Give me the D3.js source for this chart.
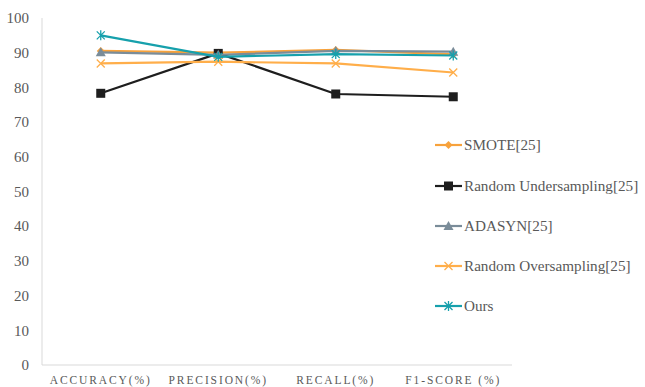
<!DOCTYPE html>
<html><head><meta charset="utf-8">
<script src="https://cdn.jsdelivr.net/npm/d3@7"></script>
</head><body><svg id="c" width="645" height="387" style="position:absolute;left:0;top:0;background:#fff"></svg>
<script>
const categories = ["ACCURACY(%)", "PRECISION(%)", "RECALL(%)", "F1-SCORE (%)"];
const seriesNames = ["SMOTE[25]", "Random Undersampling[25]", "ADASYN[25]", "Random Oversampling[25]", "Ours"];
const smote = [90.5, 90.0, 90.8, 89.5];
const randomUnder = [78.3, 89.8, 78.1, 77.3];
const adasyn = [90.1, 89.4, 90.5, 90.3];
const randomOver = [86.9, 87.4, 86.9, 84.3];
const ours = [95.0, 88.8, 89.6, 89.2];
const yTicks = [0, 10, 20, 30, 40, 50, 60, 70, 80, 90, 100];

const colors = ["#F7A23C", "#1E1E1E", "#7A8C99", "#FFAE4A", "#16A0AC"];
const markers = ["diamond", "square", "triangle", "x", "asterisk"];
const allValues = [smote, randomUnder, adasyn, randomOver, ours];

const FONT = "Liberation Serif";
const svg = d3.select("#c");
const m = {l: 42, r: 512, t: 18, b: 365};
const x = d3.scaleBand().domain(categories).range([m.l, m.r]);
const y = d3.scaleLinear().domain([0, 100]).range([m.b, m.t]);

svg.append("line").attr("x1", m.l).attr("x2", m.l).attr("y1", m.t).attr("y2", m.b).attr("stroke", "#D9D9D9");
svg.append("line").attr("x1", m.l).attr("x2", m.r).attr("y1", m.b).attr("y2", m.b).attr("stroke", "#D9D9D9");

svg.append("g").selectAll("text").data(yTicks).join("text")
  .attr("x", 29).attr("y", d => y(d)).attr("dy", "0.35em")
  .attr("text-anchor", "end").attr("font-family", FONT).attr("font-size", 15)
  .attr("fill", "#595959").text(d => d);

svg.append("g").selectAll("text").data(categories).join("text")
  .attr("x", d => x(d) + x.bandwidth() / 2).attr("y", 384)
  .attr("text-anchor", "middle").attr("font-family", FONT).attr("font-size", 11.5)
  .attr("letter-spacing", "1.9px").attr("fill", "#595959").text(d => d);

function drawMarker(g, type, color) {
  if (type === "diamond") {
    g.append("path").attr("d", "M0,-4L4,0L0,4L-4,0Z").attr("fill", color);
  } else if (type === "square") {
    g.append("rect").attr("x", -4.5).attr("y", -4.5).attr("width", 9).attr("height", 9).attr("fill", color);
  } else if (type === "triangle") {
    g.append("path").attr("d", "M0,-5L5,4L-5,4Z").attr("fill", color);
  } else if (type === "x") {
    g.append("path").attr("d", "M-4,-4L4,4M-4,4L4,-4").attr("stroke", color).attr("stroke-width", 1.3);
  } else if (type === "asterisk") {
    g.append("path").attr("d", "M-4,-4L4,4M-4,4L4,-4M0,-5L0,5").attr("stroke", color).attr("stroke-width", 1.3);
  }
}

const line = d3.line().x((d, i) => x(categories[i]) + x.bandwidth() / 2).y(d => y(d));
allValues.forEach((vals, si) => {
  svg.append("path").attr("d", line(vals)).attr("fill", "none")
    .attr("stroke", colors[si]).attr("stroke-width", 2.2).attr("stroke-linejoin", "round");
  vals.forEach((v, i) => {
    const g = svg.append("g").attr("transform", `translate(${x(categories[i]) + x.bandwidth() / 2},${y(v)})`);
    drawMarker(g, markers[si], colors[si]);
  });
});

const legY = [145, 186, 226, 266, 306];
seriesNames.forEach((name, i) => {
  const g = svg.append("g").attr("transform", `translate(435,${legY[i]})`);
  g.append("line").attr("x1", 0).attr("x2", 27).attr("stroke", colors[i]).attr("stroke-width", 2.2);
  const mg = g.append("g").attr("transform", "translate(13.5,0)");
  drawMarker(mg, markers[i], colors[i]);
  g.append("text").attr("x", 29).attr("dy", "0.35em").attr("font-family", FONT)
    .attr("font-size", 15.2).attr("fill", "#595959").text(name);
});
</script></body></html>
